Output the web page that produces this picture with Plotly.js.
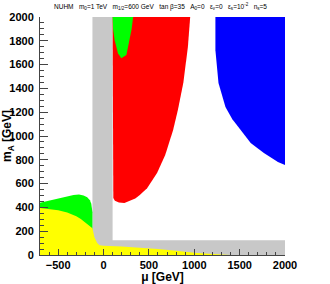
<!DOCTYPE html>
<html>
<head>
<meta charset="utf-8">
<script src="https://cdn.plot.ly/plotly-3.0.1.min.js"></script>
<style>html,body{margin:0;padding:0;background:#fff;}#chart{width:330px;height:284px;}</style>
</head>
<body>
<div id="chart"></div>
<script>
// Region boundaries (mu [GeV], m_A [GeV])
const greyMu   = [-122, 100, 100, 2000, 2000, -122];
const greyMA   = [2000, 2000, 125, 125, 0, 0];

const greenLowMu = [-700,-600,-500,-400,-330,-270,-220,-180,-150,-135,-125,-122,-122,-700];
const greenLowMA = [ 440, 458, 476, 494, 505, 508, 500, 485, 460, 430, 390, 360,   0,   0];

const yellowMu = [-700,-600,-500,-400,-300,-250,-200,-150,-122,-100,-70,-45,  0,200,400,600,800,1000,1200,1400,-700];
const yellowMA = [ 395, 388, 376, 357, 326, 302, 272, 238, 225, 150,100, 82, 78, 72, 64, 50, 35,  18,   8,   0,   0];

const redMu = [100, 100, 108, 125, 170, 230, 290, 350, 400, 480, 590, 680, 767, 820, 880, 930, 955];
const redMA = [2000, 520, 480, 455, 442, 437, 455, 475, 504, 560, 689, 840,1050,1220,1450,1750,2000];

const greenTopMu = [100, 326, 310, 289, 252, 196, 159, 122, 105];
const greenTopMA = [2000,2000,1900,1807,1680,1653,1695,1807,1900];

const blueMu = [1233,1233,1267,1344,1420,1511,1622,1767,1922,2000,2000];
const blueMA = [2000,1720,1445,1244,1140,1050, 941, 857, 781, 756,2000];

const xTickVals = [-500, 0, 500, 1000, 1500, 2000];
const yTickVals = [0, 200, 400, 600, 800, 1000, 1200, 1400, 1600, 1800, 2000];

function region(mu, ma, color) {
  return {x: mu, y: ma, type: 'scatter', mode: 'lines', fill: 'toself',
          fillcolor: color, line: {width: 0, color: color}, hoverinfo: 'skip', showlegend: false};
}

const data = [
  region(greyMu, greyMA, '#c8c8c8'),
  region(greenLowMu, greenLowMA, '#00ff00'),
  region(yellowMu, yellowMA, '#ffff00'),
  region(redMu, redMA, '#ff0000'),
  region(greenTopMu, greenTopMA, '#00ff00'),
  region(blueMu, blueMA, '#0000ff')
];

const tickFont = {family: 'Liberation Sans, Arial, sans-serif', size: 11, color: '#000', weight: 'bold'};
const titleFont = {family: 'Liberation Sans, Arial, sans-serif', size: 12, color: '#000', weight: 'bold'};
const NB = '\u00A0'.repeat(15);

const layout = {
  width: 330, height: 284,
  margin: {l: 40, r: 45, t: 17, b: 29},
  paper_bgcolor: '#fff', plot_bgcolor: '#fff',
  showlegend: false,
  xaxis: {
    range: [-700, 2000], showgrid: false, zeroline: false,
    showline: true, linecolor: '#444', linewidth: 1,
    tickmode: 'array', tickvals: xTickVals, ticks: 'inside', ticklen: 6, tickcolor: '#444',
    minor: {dtick: 100, ticks: 'inside', ticklen: 3, tickcolor: '#444', showgrid: false},
    tickfont: tickFont,
    title: {text: 'μ [GeV]', font: titleFont, standoff: 2},
    layer: 'above traces', fixedrange: true
  },
  yaxis: {
    range: [0, 2000], showgrid: false, zeroline: false,
    showline: true, linecolor: '#444', linewidth: 1,
    tickmode: 'array', tickvals: yTickVals, ticks: 'inside', ticklen: 8, tickcolor: '#444',
    minor: {dtick: 50, ticks: 'inside', ticklen: 4, tickcolor: '#444', showgrid: false},
    tickfont: tickFont, ticklabelstandoff: 3,
    title: {text: NB + 'm<sub>A</sub> [GeV]', font: titleFont, standoff: 0},
    layer: 'above traces', fixedrange: true
  },
  yaxis2: {
    range: [0, 2000], overlaying: 'y', side: 'right', showline: true, linecolor: '#777',
    linewidth: 1, showticklabels: false, ticks: '', showgrid: false, zeroline: false,
    layer: 'below traces', fixedrange: true
  },
  annotations: [
    {text: 'NUHM   m<sub>0</sub>=1 TeV   m<sub>1/2</sub>=600 GeV   tan β=35   A<sub>0</sub>=0   ε<sub>ν</sub>=0   ε<sub>s</sub>=10<sup>-2</sup>   n<sub>s</sub>=5',
     xref: 'paper', yref: 'paper', x: 0.49, y: 1.045, showarrow: false, xanchor: 'center', yanchor: 'middle',
     font: {family: 'Liberation Sans, Arial, sans-serif', size: 6.5, color: '#000'}}
  ]
};

Plotly.newPlot('chart', data, layout, {staticPlot: true, displayModeBar: false});
</script>
</body>
</html>
